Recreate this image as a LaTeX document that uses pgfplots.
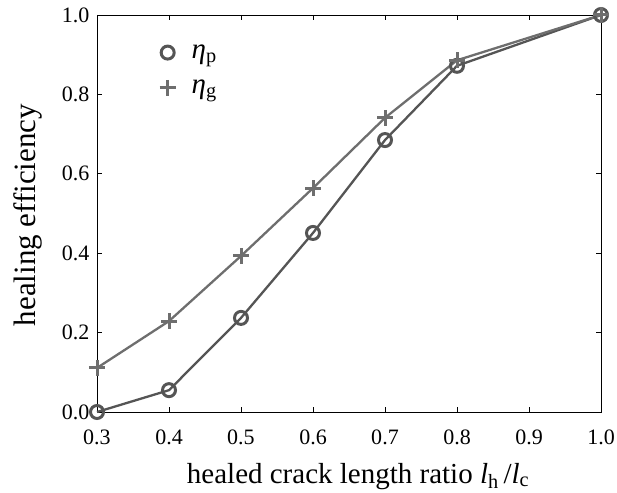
\documentclass[border=0pt]{standalone}
\usepackage{fontspec}
\setmainfont{Liberation Serif}
\usepackage{pgfplots}
\pgfplotsset{compat=1.18}
\definecolor{cp}{RGB}{85,85,85}
\definecolor{cg}{RGB}{110,110,110}
\begin{document}
\begin{tikzpicture}
\begin{axis}[
  scale only axis,
  width=504pt, height=397pt,
  xmin=0.3, xmax=1.0, ymin=0, ymax=1,
  xtick={0.3,0.4,0.5,0.6,0.7,0.8,0.9,1.0},
  xticklabels={0.3,0.4,0.5,0.6,0.7,0.8,0.9,1.0},
  ytick={0,0.2,0.4,0.6,0.8,1.0},
  yticklabels={0.0,0.2,0.4,0.6,0.8,1.0},
  tick align=inside,
  major tick length=5pt,
  tick style={black, line width=0.6pt},
  axis line style={black, line width=0.8pt},
  every tick label/.append style={font=\fontsize{22}{26}\selectfont},
  xticklabel style={yshift=-14pt},
  yticklabel style={xshift=-4pt},
  xlabel={healed crack length ratio \textit{l}\textsubscript{h}\,/\textit{l}\textsubscript{c}},
  ylabel={healing efficiency},
  xlabel style={font=\fontsize{29}{33}\selectfont, at={([yshift=-71pt]axis description cs:0.518,0)}, anchor=base},
  ylabel style={font=\fontsize{31}{35}\selectfont, at={([xshift=-61pt]axis description cs:0,0.496)}, anchor=base},
  legend style={draw=none, fill=none, at={(0.118,0.935)}, anchor=north west, row sep=16pt},
  legend cell align=left,
  legend image code/.code={\draw[#1] plot coordinates {(0pt,0pt)};},
  clip=false,
]
\addlegendimage{only marks, cp, mark=o, mark size=6.5pt, mark options={line width=3pt}}
\addlegendentry{\hspace*{14pt}\fontsize{29}{34}\selectfont\textit{η}\textsubscript{p}}
\addlegendimage{only marks, cg, mark=+, mark size=8pt, mark options={line width=3pt}}
\addlegendentry{\hspace*{14pt}\fontsize{29}{34}\selectfont\textit{η}\textsubscript{g}}
\addplot[cp, line width=2.3pt, mark=o, mark size=6.5pt, mark options={line width=3pt}, forget plot] coordinates {
(0.3,0.0) (0.4,0.055) (0.5,0.237) (0.6,0.451) (0.7,0.685) (0.8,0.872) (1.0,1.0)};
\addplot[cg, line width=2.3pt, mark=+, mark size=8pt, mark options={line width=3pt}, forget plot] coordinates {
(0.3,0.111) (0.4,0.229) (0.5,0.393) (0.6,0.564) (0.7,0.741) (0.8,0.886) (1.0,1.0)};
\end{axis}
\pgfresetboundingbox
\path ([shift={(-97pt,-80pt)}]current axis.south west) rectangle ([shift={(16pt,15pt)}]current axis.north east);
\end{tikzpicture}
\end{document}
